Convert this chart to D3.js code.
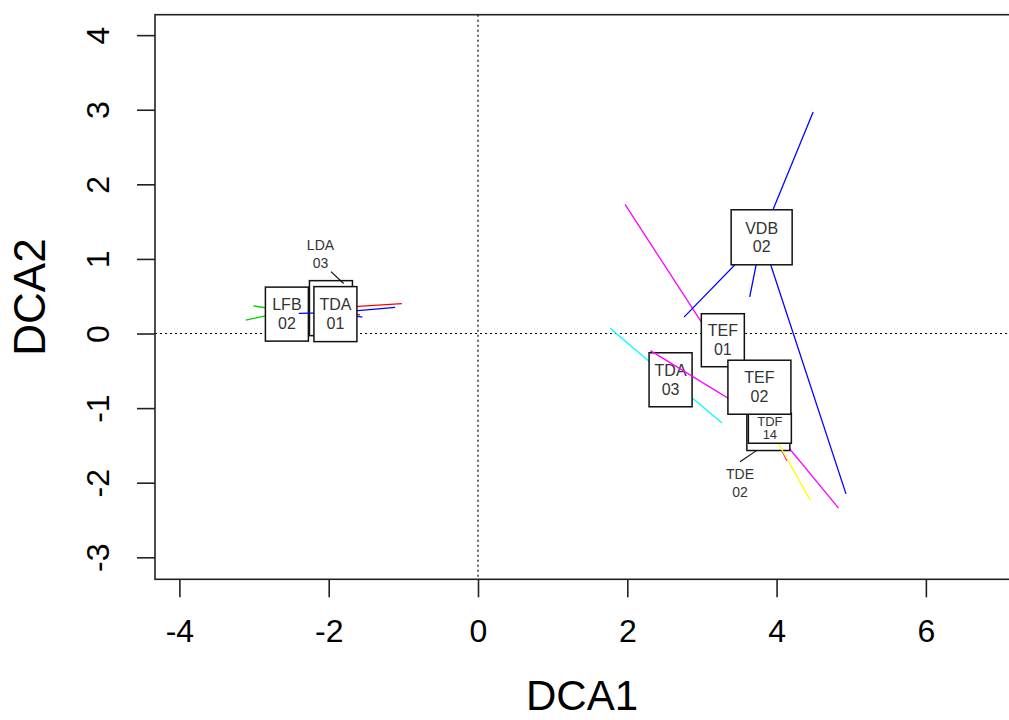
<!DOCTYPE html>
<html>
<head>
<meta charset="utf-8">
<script src="https://cdn.jsdelivr.net/npm/d3@7"></script>
<style>
  html, body { margin: 0; padding: 0; background: #fff; }
  svg { display: block; font-family: "Liberation Sans", Arial, sans-serif; }
</style>
</head>
<body>
<svg id="chart" width="1009" height="720"></svg>
<script>
// ---------------- data ----------------
const groupNames = ["LDA 03", "LFB 02", "TDA 01", "TDA 03", "TDE 02", "TDF 14", "TEF 01", "TEF 02", "VDB 02"];
// label (box) positions, DCA units
const labelX = [-1.97, -2.56, -1.91, 2.58, 3.89, 3.91, 3.28, 3.77, 3.80];
const labelY = [0.34, 0.26, 0.26, -0.62, -1.20, -1.27, -0.09, -0.72, 1.29];
// spider centres, DCA units
const centreX = [-1.97, -2.56, -1.91, 2.58, 3.89, 3.91, 3.15, 3.77, 3.80];
const centreY = [0.34, 0.30, 0.28, -0.62, -1.20, -1.27, -0.09, -0.72, 1.29];
// site scores (spider ends) and their group index
const siteGroup = [0, 0, 1, 1, 2, 2, 2, 3, 3, 4, 4, 4, 5, 6, 8, 8, 8, 8];
const siteX = [-1.02, -1.58, -3.01, -3.11, -2.40, -1.11, -1.55, 1.77, 3.27, 2.31, 4.83, 4.14, 4.45, 1.97, 4.49, 2.76, 3.64, 4.93];
const siteY = [0.40, 0.25, 0.37, 0.18, 0.27, 0.35, 0.22, 0.07, -1.20, -0.23, -2.34, -1.71, -2.23, 1.73, 2.97, 0.22, 0.49, -2.15];
// pointer labels for boxes hidden behind others
const pointerGroup = [0, 4];
const pointerTextX = [-2.11, 3.51];
const pointerTextY = [1.07, -2.00];
const pointerFromX = [-1.97, 3.51];
const pointerFromY = [0.83, -1.72];
const pointerToX = [-1.80, 3.73];
const pointerToY = [0.67, -1.57];
// axis ticks
const xTicks = [-4, -2, 0, 2, 4, 6];
const yTicks = [-3, -2, -1, 0, 1, 2, 3, 4];
const xTitle = "DCA1";
const yTitle = "DCA2";

// ---------------- styles ----------------
const groupColors = ["#ff0000", "#00cd00", "#0000ff", "#00ffff", "#ff00ff", "#ffff00", "#ff00ff", "#bebebe", "#0000ff"];
const boxW = [43, 43, 43, 43, 43, 43, 43, 63, 61];
const boxH = [55, 54, 55, 54, 55, 30, 53, 54, 55];
const boxFont = [16, 16, 16, 16, 16, 13, 16, 16, 16];
const boxLead = [18.5, 18.5, 18.5, 18.5, 18.5, 13.5, 18.5, 18.5, 18.5];

// ---------------- layout ----------------
const plot = { left: 155, right: 1015, top: 14.7, bottom: 579.3 };
const x = d3.scaleLinear().domain([-4.327, 7.194]).range([plot.left, plot.right]);
const y = d3.scaleLinear().domain([-3.295, 4.274]).range([plot.bottom, plot.top]);

const svg = d3.select("#chart");

// zero lines
svg.append("line")
  .attr("x1", x(0)).attr("x2", x(0)).attr("y1", plot.top).attr("y2", plot.bottom)
  .attr("stroke", "#000").attr("stroke-width", 1.2).attr("stroke-dasharray", "2,3");
svg.append("line")
  .attr("x1", plot.left).attr("x2", plot.right).attr("y1", y(0)).attr("y2", y(0))
  .attr("stroke", "#000").attr("stroke-width", 1.2).attr("stroke-dasharray", "2,3");

// spiders + boxes, group by group (later groups cover earlier ones)
const layer = svg.append("g");
groupNames.forEach((name, g) => {
  const sites = d3.range(siteGroup.length).filter(i => siteGroup[i] === g);
  layer.append("g").selectAll("line").data(sites).join("line")
    .attr("x1", x(centreX[g])).attr("y1", y(centreY[g]))
    .attr("x2", i => x(siteX[i])).attr("y2", i => y(siteY[i]))
    .attr("stroke", groupColors[g]).attr("stroke-width", 1.3);
  const cx = x(labelX[g]), cy = y(labelY[g]);
  const bg = layer.append("g");
  bg.append("rect")
    .attr("x", cx - boxW[g] / 2).attr("y", cy - boxH[g] / 2)
    .attr("width", boxW[g]).attr("height", boxH[g])
    .attr("fill", "#fff").attr("stroke", "#111").attr("stroke-width", 1.5);
  // the text of a box that is covered is shown by its pointer label instead
  if (pointerGroup.includes(g)) return;
  name.split(" ").forEach((p, k) => {
    bg.append("text")
      .attr("x", cx).attr("y", cy + (k - 0.5) * boxLead[g])
      .attr("text-anchor", "middle").attr("dominant-baseline", "central")
      .attr("font-size", boxFont[g]).attr("fill", "#333")
      .text(p);
  });
});

// pointer labels
pointerGroup.forEach((g, j) => {
  svg.append("line")
    .attr("x1", x(pointerFromX[j])).attr("y1", y(pointerFromY[j]))
    .attr("x2", x(pointerToX[j])).attr("y2", y(pointerToY[j]))
    .attr("stroke", "#111").attr("stroke-width", 1.2);
  groupNames[g].split(" ").forEach((p, k) => {
    svg.append("text")
      .attr("x", x(pointerTextX[j])).attr("y", y(pointerTextY[j]) + (k - 0.5) * 18)
      .attr("text-anchor", "middle").attr("dominant-baseline", "central")
      .attr("font-size", 14).attr("fill", "#333")
      .text(p);
  });
});

// frame
svg.append("rect")
  .attr("x", plot.left).attr("y", plot.top)
  .attr("width", plot.right - plot.left).attr("height", plot.bottom - plot.top)
  .attr("fill", "none").attr("stroke", "#222").attr("stroke-width", 1.6);

// axes
const fmt = d => String(d);
const xAxis = svg.append("g").attr("transform", `translate(0,${plot.bottom})`)
  .call(d3.axisBottom(x).tickValues(xTicks).tickSize(18).tickPadding(22).tickFormat(fmt));
const yAxis = svg.append("g").attr("transform", `translate(${plot.left},0)`)
  .call(d3.axisLeft(y).tickValues(yTicks).tickSize(18).tickFormat(fmt));
[xAxis, yAxis].forEach(a => {
  a.select(".domain").remove();
  a.selectAll(".tick line").attr("stroke", "#222").attr("stroke-width", 1.6);
  a.selectAll(".tick text").attr("font-size", 32).attr("fill", "#000")
    .attr("font-family", "Liberation Sans, Arial, sans-serif");
});
xAxis.selectAll(".tick text").attr("dy", "0.71em");
yAxis.selectAll(".tick text")
  .attr("x", null).attr("dy", null)
  .attr("text-anchor", "middle")
  .attr("transform", "translate(-57,0) rotate(-90)")
  .attr("y", 0).attr("dominant-baseline", "central");

// titles
svg.append("text")
  .attr("x", (plot.left + plot.right) / 2 - 3).attr("y", 710)
  .attr("text-anchor", "middle").attr("font-size", 42).attr("fill", "#000")
  .text(xTitle);
svg.append("text")
  .attr("transform", `translate(45,${(plot.top + plot.bottom) / 2}) rotate(-90)`)
  .attr("text-anchor", "middle").attr("font-size", 44).attr("fill", "#000")
  .text(yTitle);
</script>
</body>
</html>
